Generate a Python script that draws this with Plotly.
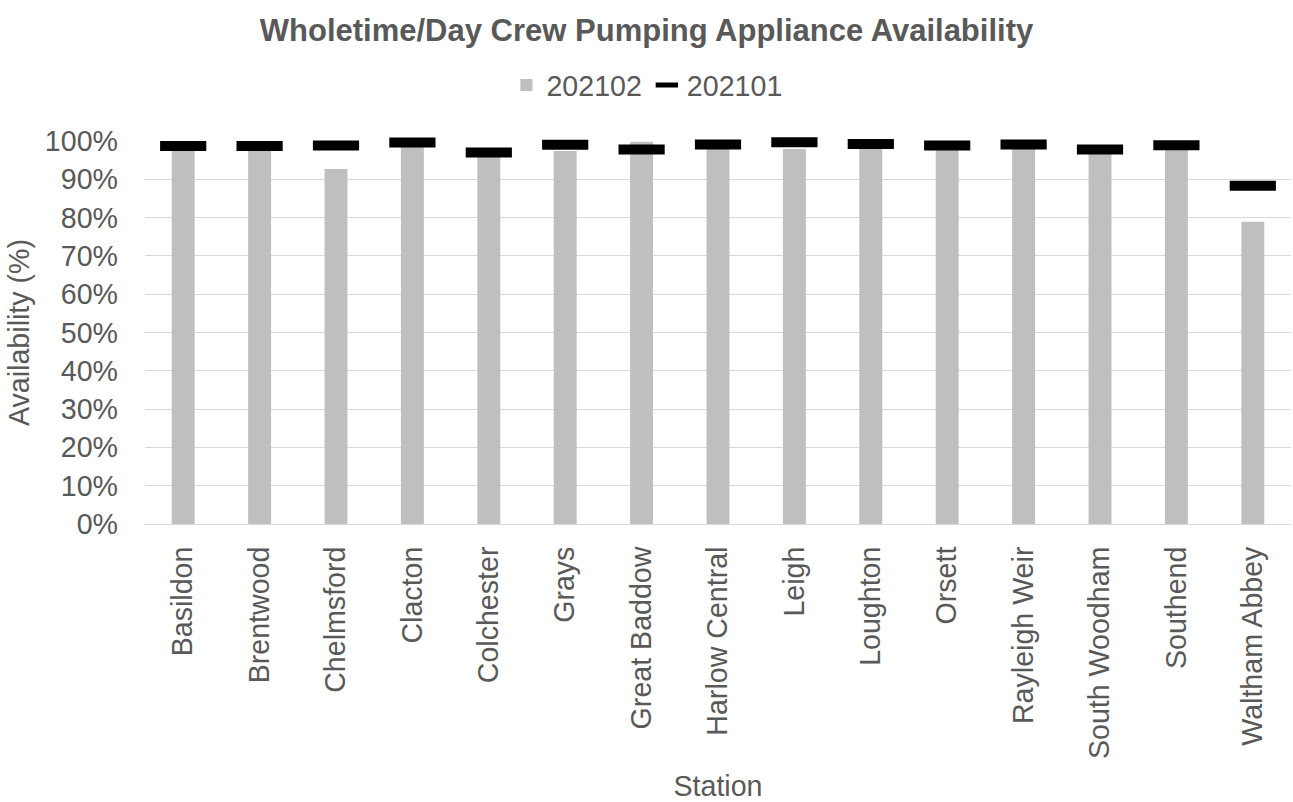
import plotly.graph_objects as go

stations = ["Basildon", "Brentwood", "Chelmsford", "Clacton", "Colchester", "Grays",
            "Great Baddow", "Harlow Central", "Leigh", "Loughton", "Orsett",
            "Rayleigh Weir", "South Woodham", "Southend", "Waltham Abbey"]
avail_202102 = [0.980, 0.980, 0.927, 0.990, 0.965, 0.974, 0.998, 0.985, 0.979, 0.985,
                0.980, 0.985, 0.970, 0.980, 0.789]
avail_202101 = [0.987, 0.987, 0.988, 0.996, 0.970, 0.990, 0.978, 0.991, 0.997, 0.992,
                0.988, 0.991, 0.978, 0.989, 0.883]
y_ticks = [0, 0.1, 0.2, 0.3, 0.4, 0.5, 0.6, 0.7, 0.8, 0.9, 1.0]
y_tick_labels = ["0%", "10%", "20%", "30%", "40%", "50%", "60%", "70%", "80%", "90%", "100%"]

grey_text = "#595959"
font_family = "Liberation Sans, Arial, sans-serif"
label_size = 28.6

fig = go.Figure()
fig.add_trace(go.Bar(
    x=stations, y=avail_202102, name="202102",
    marker=dict(color="#bfbfbf", line=dict(width=0)),
    width=0.30,
))
fig.add_trace(go.Scatter(
    x=stations, y=avail_202101, name="202101", mode="markers",
    marker=dict(symbol="line-ew", size=33, color="#000000",
                line=dict(color="#000000", width=10)),
    cliponaxis=False,
))

fig.update_layout(
    width=1293, height=802,
    paper_bgcolor="white", plot_bgcolor="white",
    margin=dict(l=145, r=2, t=141, b=278, autoexpand=False),
    font=dict(family=font_family, color=grey_text, size=label_size),
    title=dict(text="<b>Wholetime/Day Crew Pumping Appliance Availability</b>",
               x=0.5, xanchor="center", y=0.962, yanchor="middle",
               font=dict(size=31, color=grey_text, family=font_family)),
    legend=dict(orientation="h", x=0.438, xanchor="center",
                y=1.145, yanchor="middle",
                font=dict(size=label_size, color=grey_text), itemwidth=30,
                traceorder="normal", bgcolor="rgba(0,0,0,0)"),
    showlegend=True,
    bargap=0.7,
)
fig.update_yaxes(
    range=[0, 1], tickvals=y_ticks, ticktext=y_tick_labels,
    showgrid=True, gridcolor="#d9d9d9", gridwidth=1.3,
    zeroline=False, showline=False, ticks="",
    ticklabelstandoff=26,
    tickfont=dict(size=label_size, color=grey_text),
    title=dict(text="Availability (%)", font=dict(size=label_size, color=grey_text), standoff=6),
)
fig.update_xaxes(
    range=[-0.5, len(stations) - 0.5],
    tickangle=-90, showgrid=False, showline=True, linecolor="#d9d9d9", linewidth=1.3,
    ticks="", ticklabelstandoff=10,
    tickfont=dict(size=label_size, color=grey_text),
    title=dict(text="Station", font=dict(size=label_size, color=grey_text), standoff=20),
)

fig.write_html("out.html")
